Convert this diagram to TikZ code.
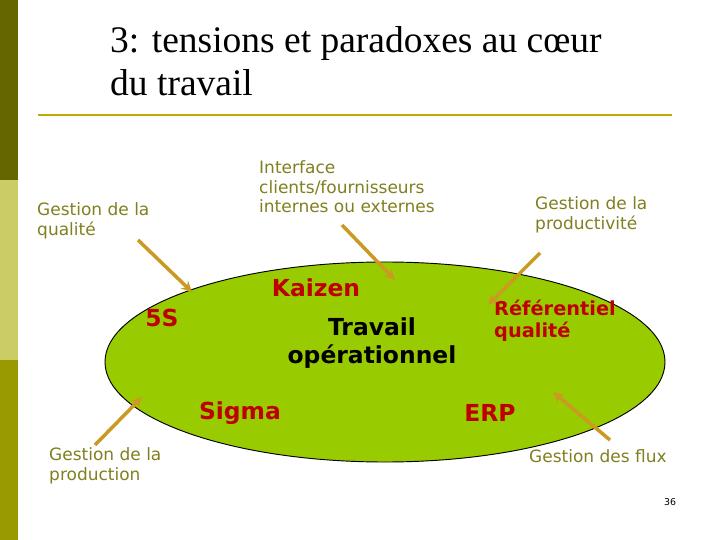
\documentclass[tikz,border=0pt]{standalone}
\usepackage{fontspec}
\setmainfont{Liberation Serif}
\newfontfamily\vsans{DejaVu Sans}
\usetikzlibrary{arrows.meta,shapes.geometric}
\definecolor{olv}{RGB}{128,128,32}
\definecolor{bar1}{RGB}{102,102,0}
\definecolor{bar2}{RGB}{204,204,102}
\definecolor{bar3}{RGB}{153,153,0}
\definecolor{rule}{RGB}{190,170,0}
\definecolor{ell}{RGB}{153,204,0}
\definecolor{arr}{RGB}{204,153,34}
\definecolor{rd}{RGB}{190,0,0}
\tikzset{
 lbl/.style={font=\vsans\fontsize{14.5}{17}\selectfont, text=olv, align=left, anchor=north west, inner sep=0},
 red/.style={font=\vsans\bfseries\fontsize{20}{23}\selectfont, text=rd, inner sep=0},
 blk/.style={font=\vsans\bfseries\fontsize{20}{24}\selectfont, text=black, align=center, inner sep=0},
 ar/.style={draw=arr, line width=3pt, -{Stealth[length=9pt,width=9pt]}}
}
\begin{document}
\begin{tikzpicture}[x=0.03cm,y=-0.03cm]
\useasboundingbox (0,0) rectangle (720,540);
\fill[white] (0,0) rectangle (720,540);
\fill[bar1] (0,0) rectangle (18,180);
\fill[bar2] (0,180) rectangle (18,360);
\fill[bar3] (0,360) rectangle (18,540);
\node[anchor=north west, align=left, inner sep=0, font=\fontsize{32}{37}\selectfont] (title) at (110,26) {3: tensions et paradoxes au cœur\\du travail};
\draw[rule, line width=2pt] (38,115) -- (672,115);
\node[draw=black, line width=0.8pt, fill=ell, ellipse, minimum width=16.8cm, minimum height=6cm, inner sep=0] (e) at (385,362) {};
\node[lbl] (q) at (37,202) {Gestion de la\\qualité};
\node[lbl] (i) at (259,160) {Interface\\clients/fournisseurs\\internes ou externes};
\node[lbl] (p) at (535,196) {Gestion de la\\productivité};
\node[lbl] (pr) at (49,447) {Gestion de la\\production};
\node[lbl] (f) at (529,449) {Gestion des flux};
\node[inner sep=0, font=\vsans\fontsize{8}{10}\selectfont] (n) at (670,502) {36};
\node[red] (k) at (316,288) {Kaizen};
\node[red] (s5) at (162,318) {5S};
\node[blk] (t) at (372,343) {Travail\\opérationnel};
\node[red] (sg) at (240,413) {Sigma};
\node[red] (erp) at (490,413) {ERP};
\node[red, align=left, font=\vsans\bfseries\fontsize{16.5}{19}\selectfont] (r) at (555,321) {Référentiel\\qualité};
\coordinate (a1) at (138,240); \coordinate (b1) at (192,292);
\coordinate (a2) at (342,225); \coordinate (b2) at (395,280);
\coordinate (a3) at (540,253); \coordinate (b3) at (488,305);
\coordinate (a4) at (95,445); \coordinate (b4) at (142,397);
\coordinate (a5) at (610,440); \coordinate (b5) at (553,392);
\draw[ar] (a1) -- (b1);
\draw[ar] (a2) -- (b2);
\draw[ar] (a3) -- (b3);
\draw[ar] (a4) -- (b4);
\draw[ar] (a5) -- (b5);
\end{tikzpicture}
\end{document}
